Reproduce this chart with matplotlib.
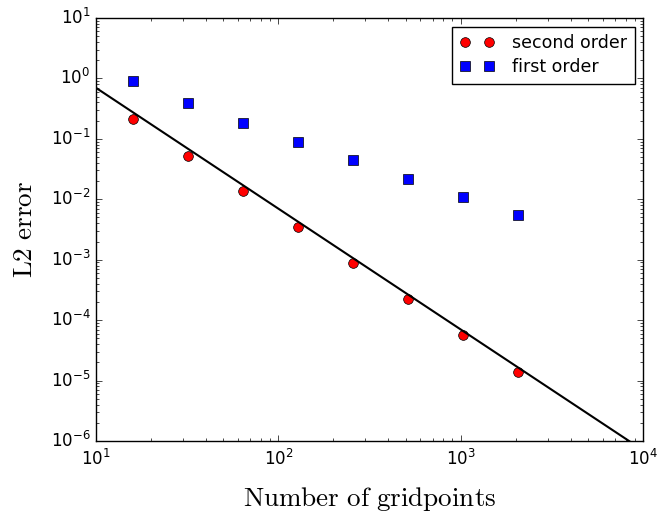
import matplotlib
matplotlib.use('Agg')
import matplotlib.pyplot as plt
import numpy as np

plt.style.use('classic')
plt.rcParams['axes.unicode_minus'] = False
plt.rcParams['mathtext.fontset'] = 'cm'

# grid sizes and measured errors
gridpoints = [16, 32, 64, 128, 256, 512, 1024, 2048]
err_second = [0.21, 0.052, 0.0137, 0.0035, 0.00088, 0.000223, 5.6e-5, 1.41e-5]
err_first = [0.895, 0.386, 0.185, 0.0895, 0.0446, 0.0216, 0.011, 0.0055]

# reference slope -2 line
ref_const = 70.0
ref_n = np.logspace(1, 4, 200)

fig = plt.figure(figsize=(6.57, 5.14), dpi=100, facecolor='white')
ax = fig.add_axes([0.146, 0.142, 0.833, 0.823])

ax.loglog(gridpoints, err_second, 'o', color='red', markeredgecolor='black',
          markersize=7, label='second order')
ax.loglog(gridpoints, err_first, 's', color='blue', markeredgecolor='black',
          markersize=6.5, label='first order')
ax.loglog(ref_n, ref_const / ref_n**2, '-', color='black', linewidth=1.5)

ax.set_xlim(10, 1e4)
ax.set_ylim(1e-6, 10)
ax.tick_params(labelsize=12)
ax.tick_params(axis='x', pad=6)

ax.set_xlabel(r'$\mathrm{Number\ of\ gridpoints}$', fontsize=19.5, labelpad=11)
ax.set_ylabel(r'$\mathrm{L2\ error}$', fontsize=19.5, labelpad=9)

ax.legend(loc='upper right', numpoints=2, fontsize=12.5, fancybox=False,
          borderaxespad=0.5, handletextpad=1.0, labelspacing=0.32,
          borderpad=0.45)

fig.savefig('out.png', dpi=100, facecolor='white')
